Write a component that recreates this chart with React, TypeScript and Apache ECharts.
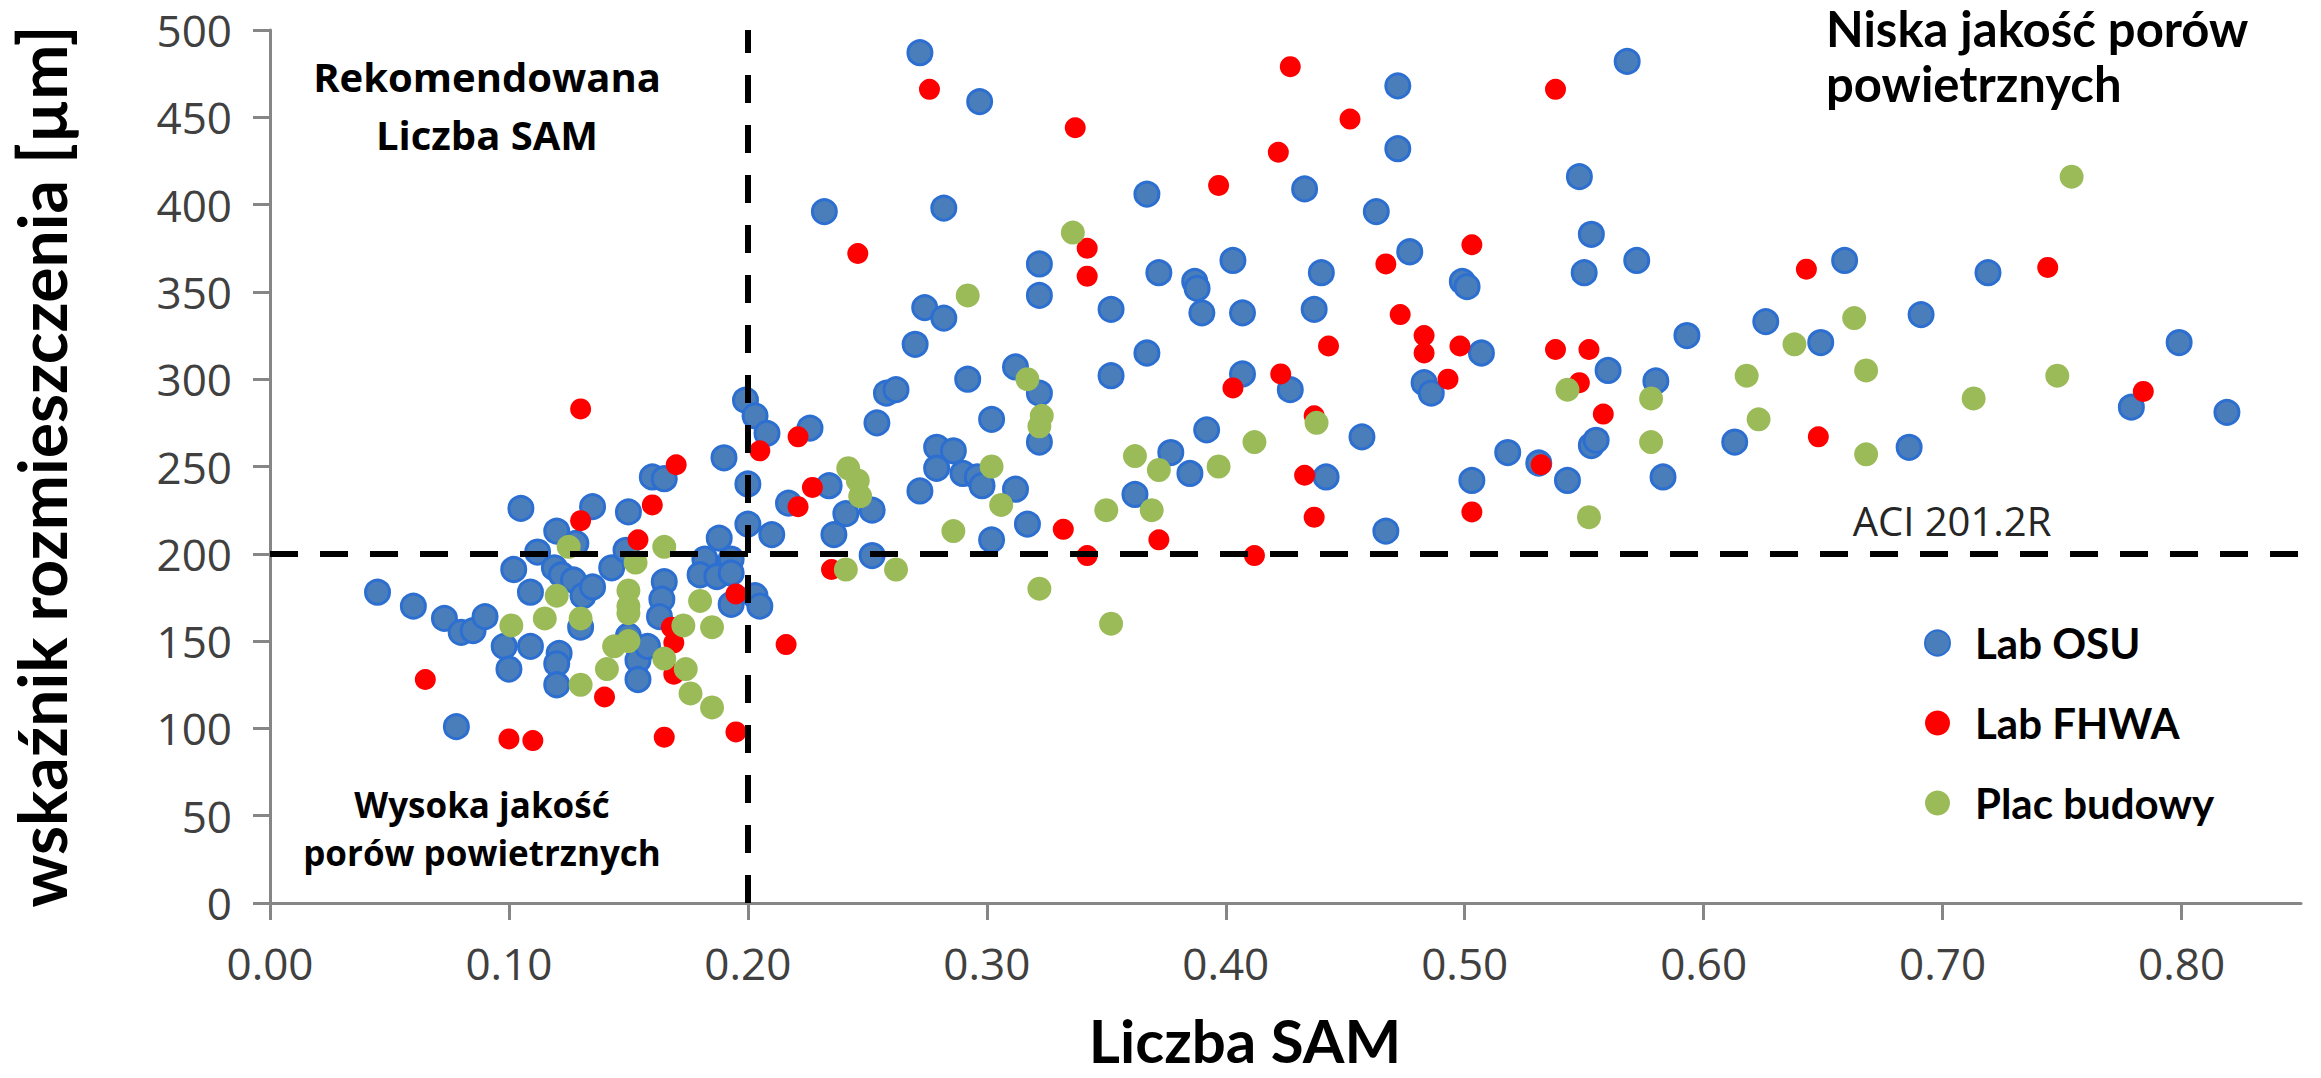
import React, { useEffect, useRef } from "react";
import * as echarts from "echarts";

const xTicks = [0, 0.1, 0.2, 0.3, 0.4, 0.5, 0.6, 0.7, 0.8];
const yTicks = [0, 50, 100, 150, 200, 250, 300, 350, 400, 450, 500];

const seriesNames = ["Lab OSU", "Lab FHWA", "Plac budowy"];

const labOSU: number[][] = [
  [0.045, 178], [0.06, 170], [0.073, 163], [0.08, 155], [0.085, 156], [0.09, 164], [0.078, 101],
  [0.105, 226], [0.102, 191], [0.112, 201], [0.109, 178], [0.098, 147], [0.1, 134], [0.109, 147],
  [0.12, 213], [0.119, 192], [0.122, 188], [0.127, 185], [0.131, 176], [0.135, 181], [0.135, 227],
  [0.128, 206], [0.121, 143], [0.12, 137], [0.12, 125], [0.13, 158], [0.15, 224], [0.143, 192],
  [0.149, 202], [0.15, 153], [0.154, 139], [0.154, 128], [0.16, 244], [0.165, 243], [0.165, 184],
  [0.164, 174], [0.163, 164], [0.158, 147], [0.19, 255], [0.188, 209], [0.182, 197], [0.18, 188],
  [0.187, 187], [0.193, 171], [0.199, 288], [0.203, 279], [0.2, 240], [0.2, 217], [0.203, 176],
  [0.205, 170], [0.21, 211], [0.208, 269], [0.193, 197], [0.193, 189], [0.217, 229],
  [0.272, 487], [0.297, 459], [0.232, 396], [0.282, 398], [0.322, 366], [0.322, 348], [0.274, 341],
  [0.282, 335], [0.27, 320], [0.312, 307], [0.292, 300], [0.322, 292], [0.258, 292], [0.262, 294],
  [0.254, 275], [0.302, 277], [0.322, 264], [0.226, 272], [0.234, 239], [0.241, 223], [0.252, 225],
  [0.236, 211], [0.279, 261], [0.286, 259], [0.279, 249], [0.29, 246], [0.296, 244], [0.298, 239],
  [0.272, 236], [0.312, 237], [0.317, 217], [0.302, 208], [0.252, 199], [0.352, 340], [0.367, 406],
  [0.352, 302], [0.367, 315], [0.372, 361], [0.387, 356], [0.388, 352], [0.39, 338], [0.403, 368],
  [0.407, 338], [0.407, 303], [0.427, 294], [0.433, 409], [0.463, 396], [0.472, 468], [0.472, 432],
  [0.44, 361], [0.437, 340], [0.477, 373], [0.499, 356], [0.501, 353], [0.507, 315], [0.483, 298],
  [0.486, 292], [0.392, 271], [0.377, 258], [0.385, 246], [0.362, 234], [0.457, 267], [0.442, 244],
  [0.503, 242], [0.467, 213], [0.518, 258],
  [0.568, 482], [0.548, 416], [0.553, 383], [0.55, 361], [0.572, 368], [0.593, 325], [0.626, 333],
  [0.659, 368], [0.649, 321], [0.691, 337], [0.719, 361], [0.799, 321], [0.779, 284], [0.819, 281],
  [0.56, 305], [0.58, 299], [0.553, 262], [0.555, 265], [0.543, 242], [0.583, 244], [0.613, 264],
  [0.686, 261], [0.531, 252],
];

const labFHWA: number[][] = [
  [0.13, 283], [0.13, 219], [0.16, 228], [0.17, 251], [0.154, 208], [0.065, 128], [0.1, 94],
  [0.11, 93], [0.14, 118], [0.165, 95], [0.195, 98], [0.195, 177], [0.168, 158], [0.169, 149],
  [0.169, 131], [0.205, 259], [0.216, 148],
  [0.276, 466], [0.337, 444], [0.427, 479], [0.452, 449], [0.422, 430], [0.397, 411], [0.246, 372],
  [0.342, 375], [0.342, 359], [0.503, 377], [0.467, 366], [0.473, 337], [0.483, 325], [0.483, 315],
  [0.498, 319], [0.493, 300], [0.443, 319], [0.423, 303], [0.403, 295], [0.433, 245], [0.437, 221],
  [0.503, 224], [0.372, 208], [0.332, 214], [0.342, 199], [0.412, 199], [0.221, 267], [0.227, 238],
  [0.221, 227], [0.235, 191], [0.437, 279],
  [0.538, 466], [0.643, 363], [0.744, 364], [0.538, 317], [0.552, 317], [0.548, 298], [0.558, 280],
  [0.532, 251], [0.648, 267], [0.784, 293],
];

const placBudowy: number[][] = [
  [0.101, 159], [0.115, 163], [0.12, 176], [0.125, 204], [0.13, 163], [0.13, 125], [0.141, 134],
  [0.144, 147], [0.15, 150], [0.15, 179], [0.15, 170], [0.15, 166], [0.153, 195], [0.165, 204],
  [0.165, 140], [0.174, 134], [0.176, 120], [0.18, 173], [0.173, 159], [0.185, 158], [0.185, 112],
  [0.336, 384], [0.292, 348], [0.317, 300], [0.323, 279], [0.322, 273], [0.242, 249], [0.246, 242],
  [0.247, 233], [0.302, 250], [0.306, 228], [0.286, 213], [0.241, 191], [0.262, 191], [0.322, 180],
  [0.362, 256], [0.372, 248], [0.397, 250], [0.412, 264], [0.438, 275], [0.35, 225], [0.369, 225],
  [0.352, 160],
  [0.754, 416], [0.663, 335], [0.638, 320], [0.668, 305], [0.748, 302], [0.713, 289], [0.618, 302],
  [0.623, 277], [0.543, 294], [0.578, 289], [0.578, 264], [0.668, 257], [0.552, 221],
];

const aciLimit = 200;
const samLimit = 0.2;

export default function App() {
  const ref = useRef<HTMLDivElement>(null);
  useEffect(() => {
    if (!ref.current) return;
    const chart = echarts.init(ref.current, null, { renderer: "svg" });
    const dash = { color: "#000", width: 6, type: [28, 22] as any };
    chart.setOption({
      animation: false,
      backgroundColor: "#fff",
      textStyle: { fontFamily: "Open Sans" },
      grid: { left: 241, right: 20, top: 30, bottom: 175 },
      legend: {
        orient: "vertical",
        left: 1919,
        top: 616,
        itemWidth: 25,
        itemHeight: 25,
        itemGap: 36,
        icon: "circle",
        data: seriesNames,
        textStyle: {
          fontFamily: "Lato",
          fontWeight: "bold",
          fontSize: 42,
          lineHeight: 44,
          color: "#000",
          padding: [0, 0, 0, 20],
        },
      },
      xAxis: {
        type: "value",
        min: 0,
        max: 0.85,
        interval: 0.1,
        splitLine: { show: false },
        axisLine: { lineStyle: { color: "#868686", width: 3 } },
        axisTick: { show: true, length: 17, lineStyle: { color: "#868686", width: 3 }, customValues: xTicks },
        axisLabel: {
          customValues: xTicks,
          formatter: (v: number) => v.toFixed(2),
          fontSize: 44,
          color: "#404040",
          margin: 38,
          fontFamily: "Open Sans",
        },
      },
      yAxis: {
        type: "value",
        min: 0,
        max: 500,
        interval: 50,
        splitLine: { show: false },
        axisLine: { show: true, lineStyle: { color: "#868686", width: 3 } },
        axisTick: { show: true, length: 17, lineStyle: { color: "#868686", width: 3 }, customValues: yTicks },
        axisLabel: { customValues: yTicks, fontSize: 44, color: "#404040", margin: 38, fontFamily: "Open Sans" },
        name: "wskaźnik rozmieszczenia [µm]",
        nameLocation: "middle",
        nameRotate: 90,
        nameGap: 196,
        nameTextStyle: { fontFamily: "Lato", fontWeight: "bold", fontSize: 66, color: "#000" },
      },
      series: [
        {
          name: seriesNames[0],
          type: "scatter",
          data: labOSU,
          symbolSize: 24,
          itemStyle: { color: "#4A7EBB", borderColor: "#2C6FD1", borderWidth: 3, opacity: 1 },
        },
        {
          name: seriesNames[1],
          type: "scatter",
          data: labFHWA,
          symbolSize: 21,
          itemStyle: { color: "#FF0000", opacity: 1 },
        },
        {
          name: seriesNames[2],
          type: "scatter",
          data: placBudowy,
          symbolSize: 24,
          itemStyle: { color: "#9BBB59", opacity: 1 },
          markLine: {
            silent: true,
            symbol: "none",
            z: 10,
            label: { show: false },
            lineStyle: dash,
            emphasis: { disabled: true },
            data: [{ yAxis: aciLimit }, { xAxis: samLimit }],
          },
        },
      ],
      graphic: [
        {
          type: "text",
          x: 487,
          y: 105,
          style: {
            text: "Rekomendowana\nLiczba SAM",
            fontFamily: "Open Sans",
            fontWeight: "bold",
            fontSize: 40,
            lineHeight: 58,
            fill: "#000",
            align: "center",
            verticalAlign: "middle",
          },
        },
        {
          type: "text",
          x: 482,
          y: 828,
          style: {
            text: "Wysoka jakość\nporów powietrznych",
            fontFamily: "Open Sans",
            fontWeight: "bold",
            fontSize: 35,
            lineHeight: 48,
            fill: "#000",
            align: "center",
            verticalAlign: "middle",
          },
        },
        {
          type: "text",
          x: 1826,
          y: 55,
          style: {
            text: "Niska jakość porów\npowietrznych",
            fontFamily: "Lato",
            fontWeight: "bold",
            fontSize: 49,
            lineHeight: 55,
            fill: "#000",
            align: "left",
            verticalAlign: "middle",
          },
        },
        {
          type: "text",
          x: 1952,
          y: 520,
          style: {
            text: "ACI 201.2R",
            fontFamily: "Open Sans",
            fontSize: 40,
            fill: "#262626",
            align: "center",
            verticalAlign: "middle",
          },
        },
        {
          type: "text",
          x: 1245,
          y: 1040,
          style: {
            text: "Liczba SAM",
            fontFamily: "Lato",
            fontWeight: "bold",
            fontSize: 60,
            fill: "#000",
            align: "center",
            verticalAlign: "middle",
          },
        },
      ],
    });
    return () => chart.dispose();
  }, []);
  return (
    <div
      ref={ref}
      style={{ position: "fixed", left: 0, top: 0, width: 2321, height: 1078, background: "#fff" }}
    />
  );
}
